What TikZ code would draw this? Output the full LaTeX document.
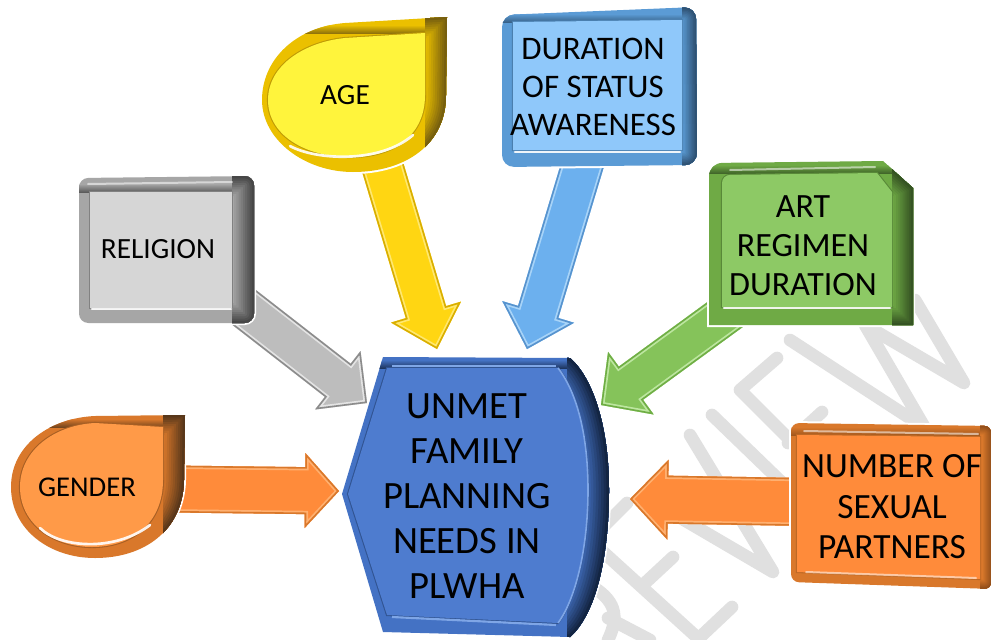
\documentclass[tikz,border=0pt]{standalone}
\usepackage{fontspec}
\setmainfont{Carlito}
\usetikzlibrary{calc}
\pgfdeclarelayer{wm}
\pgfdeclarelayer{arrowlayer}
\pgfsetlayers{wm,arrowlayer,main}
\definecolor{wmgray}{HTML}{E0E0E0}
\definecolor{grayrim}{HTML}{A6A6A6}\definecolor{graydark}{HTML}{3C3C3C}\definecolor{grayface}{HTML}{D6D6D6}
\definecolor{grayarrow}{HTML}{BDBDBD}\definecolor{grayarim}{HTML}{8C8C8C}\definecolor{grayahl}{HTML}{E4E4E4}
\definecolor{oranrim}{HTML}{D9782B}\definecolor{orandark}{HTML}{4A3018}\definecolor{oranface}{HTML}{FF9A48}
\definecolor{numface}{HTML}{FF8B3A}\definecolor{numdark}{HTML}{8A4A18}
\definecolor{oranarrow}{HTML}{FF8B3A}\definecolor{oranarim}{HTML}{D9782B}\definecolor{oranahl}{HTML}{FFB070}
\definecolor{yelrim}{HTML}{EBC000}\definecolor{yeldark}{HTML}{6A5410}\definecolor{yelface}{HTML}{FFF43C}
\definecolor{yelarrow}{HTML}{FFD612}\definecolor{yelarim}{HTML}{D9AE00}\definecolor{yelahl}{HTML}{FFE870}
\definecolor{blurim}{HTML}{5B9BD5}\definecolor{bludark}{HTML}{2A4A68}\definecolor{bluface}{HTML}{8FC8FA}
\definecolor{bluarrow}{HTML}{6CB0EE}\definecolor{bluarim}{HTML}{5793CE}\definecolor{bluahl}{HTML}{A8D4F8}
\definecolor{grnrim}{HTML}{6FAA45}\definecolor{grndark}{HTML}{2F4A1F}\definecolor{grnface}{HTML}{8DC965}
\definecolor{grnarrow}{HTML}{85C35A}\definecolor{grnarim}{HTML}{6FAE45}\definecolor{grnahl}{HTML}{BDE6A0}
\definecolor{cenrim}{HTML}{4472C4}\definecolor{cendark}{HTML}{0E1C34}\definecolor{cenface}{HTML}{4E7CCF}
\definecolor{cenhl}{HTML}{7FA6E6}
\tikzset{
  lbl/.style={align=center,inner sep=0pt,text=black},
  big/.style={lbl,font=\fontsize{29pt}{33.8pt}\selectfont},
  mid/.style={lbl,font=\fontsize{25.5pt}{29.3pt}\selectfont},
  midb/.style={lbl,font=\fontsize{24.7pt}{28.5pt}\selectfont},
  midc/.style={lbl,font=\fontsize{26.6pt}{30.4pt}\selectfont},
  small/.style={lbl,font=\fontsize{22pt}{26pt}\selectfont},
  wmstroke/.style={draw=wmgray,line width=9.5pt,line cap=round,line join=round},
  hl/.style={draw=white,line width=2pt,line cap=round,opacity=.9},
  soft/.style={draw=white,line width=1.5pt,line cap=round,opacity=.55}
}
% outer, inner, rim, dark, face, x split, width of dark edge, y of inner top
\newcommand\bev[8]{%
  \draw[white,line width=3pt] #1 -- cycle;
  \begin{scope}
    \clip #1 -- cycle;
    \fill[#3] (0,0) rectangle (991,639);
    \shade[top color=#3,bottom color=#4!70!#3] (0,#8-8) rectangle (#6,#8);
    \clip (#6,0) rectangle (991,639);
    \foreach \i [evaluate=\i as \p using int(\i*10), evaluate=\i as \w using 2*#7*(10-\i)/10*0.75] in {0,...,9}{
      \draw[#4!\p!#3,line width=\w pt] #1 -- cycle;
    }
  \end{scope}
  \draw[#4!35!#3,line width=1.6pt] #2 -- cycle;
  \fill[#5] #2 -- cycle;
}
% from, to, half shaft, half head, head length, rim, face, highlight
\newcommand\blockarrow[8]{%
  \coordinate (hb) at ($(#2)!#5*0.75pt!(#1)$);
  \coordinate (s1) at ($(#1)!#3*0.75pt!90:(#2)$);
  \coordinate (s2) at ($(#1)!#3*0.75pt!-90:(#2)$);
  \coordinate (j1) at ($(hb)!#3*0.75pt!-90:(#1)$);
  \coordinate (j2) at ($(hb)!#3*0.75pt!90:(#1)$);
  \coordinate (h1) at ($(hb)!#4*0.75pt!-90:(#1)$);
  \coordinate (h2) at ($(hb)!#4*0.75pt!90:(#1)$);
  \def\arrowpath{(s1) -- (j1) -- (h1) -- (#2) -- (h2) -- (j2) -- (s2) -- cycle}
  \fill[#7] \arrowpath;
  \begin{scope}
    \clip \arrowpath;
    \draw[#8,line width=5pt,line join=miter] \arrowpath;
    \draw[#6,line width=2.4pt,line join=miter] \arrowpath;
  \end{scope}
}
\begin{document}
\begin{tikzpicture}[x=0.75pt,y=-0.75pt]
\useasboundingbox (0,0) rectangle (991,639);

% ---- watermark
\begin{pgfonlayer}{wm}
\fill[white] (0,0) rectangle (991,639);
\begin{scope}
\clip (0,0) rectangle (991,639);
\draw[wmstroke] (915,300) -- (964,383) -- (865,325) -- (925,428) -- (790,340);
\draw[wmstroke] (777,358) -- (740,390) -- (860,510);
\draw[wmstroke] (822,412) -- (788,443);
\draw[wmstroke] (712,415) -- (800,500);
\draw[wmstroke] (690,435) -- (773,572) -- (650,500);
\draw[wmstroke] (627,503) -- (590,540) -- (700,640);
\draw[wmstroke] (673,557) -- (645,583);
\draw[wmstroke] (732,607) -- (697,640);
\draw[wmstroke] (590,585) .. controls (615,600) and (620,615) .. (608,640);
\draw[wmstroke] (608,618) -- (650,640);
\end{scope}
\end{pgfonlayer}

% ---- RELIGION
\bev{[rounded corners=7pt] (79,178) -- (254,176) -- (254,323) -- (79,323)}
    {(90,192) -- (232,192) -- (232,308) -- (90,308)}
    {grayrim}{graydark}{grayface}{232}{22}{192}
\draw[hl] (92,309) -- (231,309);
\draw[soft] (88,184) -- (232,182);
\node[small] (religion) at (158,249) {RELIGION};

% ---- GENDER
\bev{(185,415) -- (95,416) .. controls (50,418) and (11,445) .. (11,487) .. controls (11,530) and (50,558) .. (95,558) .. controls (145,558) and (183,530) .. (184,480)}
    {(163,427) -- (95,423) .. controls (55,425) and (20,450) .. (20,487) .. controls (20,525) and (55,547) .. (92,547) .. controls (130,547) and (163,525) .. (163,480)}
    {oranrim}{orandark}{oranface}{163}{22}{427}
\draw[hl] (40,528) .. controls (60,548) and (115,552) .. (150,525);
\node[lbl,font=\fontsize{21.5pt}{25pt}\selectfont] (gender) at (87,487) {GENDER};

% ---- AGE
\bev{(447,17) -- (345,23) .. controls (295,27) and (262,60) .. (262,100) .. controls (262,140) and (305,172) .. (353,172) .. controls (405,172) and (446,145) .. (446,95)}
    {(425,33) -- (345,38) .. controls (305,42) and (268,65) .. (268,100) .. controls (268,135) and (305,157) .. (350,157) .. controls (395,157) and (425,135) .. (425,95)}
    {yelrim}{yeldark}{yelface}{425}{22}{33}
\draw[hl] (290,146) .. controls (315,160) and (380,164) .. (413,135);
\node[small] (age) at (345,95) {AGE};

% ---- DURATION
\bev{[rounded corners=9pt] (502,15) -- (696,7) -- (697,165) -- (502,167)}
    {(513,22) -- (682,20) -- (682,150) -- (513,150)}
    {blurim}{bludark}{bluface}{682}{15}{22}
\draw[hl] (515,152) -- (680,152);
\node[midb] (duration) at (593,87) {DURATION\\OF STATUS\\AWARENESS};

% ---- ART
\bev{(883,161) -- (913,188) -- (913,325) -- (709,325) [rounded corners=10pt] -- (709,163) [sharp corners] -- (883,161)}
    {(877,173) -- (892,192) -- (892,307) -- (722,307) [rounded corners=6pt] -- (722,175) [sharp corners] -- (877,173)}
    {grnrim}{grndark}{grnface}{892}{21}{173}
\draw[hl] (724,308) -- (890,308);
\draw[soft] (730,170) -- (875,167);
\node[mid] (art) at (803,246) {ART\\REGIMEN\\DURATION};

% ---- NUMBER
\bev{[rounded corners=6pt] (791,423) -- (992,426) -- (992,589) -- (791,582)}
    {(797,435) -- (980,437) -- (980,579) -- (797,572)}
    {oranrim}{numdark}{numface}{980}{10}{435}
\draw[soft] (806,572) -- (976,578);
\draw[soft] (804,431) -- (978,434);
\node[midc] (number) at (892,507) {NUMBER OF\\SEXUAL\\PARTNERS};

% ---- UNMET
\bev{(383,357) -- (570,358) .. controls (590,375) and (609,420) .. (609,490) .. controls (609,560) and (595,615) .. (570,637) -- (383,632) -- (342,494)}
    {(387,368) -- (558,368) .. controls (575,390) and (588,430) .. (588,490) .. controls (588,550) and (575,600) .. (558,623) -- (387,615) -- (348,494)}
    {cenrim}{cendark}{cenface}{567}{26}{368}
\draw[cenhl,line width=1.6pt] (392,366) -- (556,366);
\draw[cenhl,line width=1.6pt] (392,617) -- (556,625);
\draw[cenhl,line width=1.2pt] (558,368) .. controls (575,390) and (588,430) .. (588,490) .. controls (588,550) and (575,600) .. (558,623);
\node[big] (unmet) at (467,496) {UNMET\\FAMILY\\PLANNING\\NEEDS IN\\PLWHA};

% ---- connector ends
\coordinate (religion-out) at (232,298);
\coordinate (gender-out) at (170,489);
\coordinate (age-out) at (379,155);
\coordinate (duration-out) at (587,150);
\coordinate (art-out) at (745,300);
\coordinate (number-out) at (805,502);
\coordinate (unmet-a) at (367,403);
\coordinate (unmet-b) at (339,491);
\coordinate (unmet-c) at (437,349);
\coordinate (unmet-d) at (527,349);
\coordinate (unmet-e) at (601,405);
\coordinate (unmet-f) at (630,499);

\begin{pgfonlayer}{arrowlayer}
\blockarrow{religion-out}{unmet-a}{21}{37}{37}{grayarim}{grayarrow}{grayahl}
\blockarrow{gender-out}{unmet-b}{23.5}{37.5}{34}{oranarim}{oranarrow}{oranahl}
\blockarrow{age-out}{unmet-c}{21}{36.5}{38.5}{yelarim}{yelarrow}{yelahl}
\blockarrow{duration-out}{unmet-d}{21}{37.5}{38.7}{bluarim}{bluarrow}{bluahl}
\blockarrow{art-out}{unmet-e}{20.5}{38.7}{37}{grnarim}{grnarrow}{grnahl}
\blockarrow{number-out}{unmet-f}{24}{40}{38}{oranarim}{oranarrow}{oranahl}
\end{pgfonlayer}
\end{tikzpicture}
\end{document}
